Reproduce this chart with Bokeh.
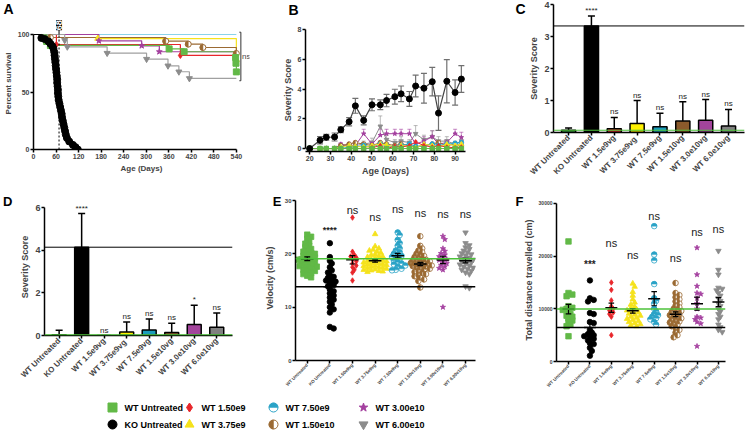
import numpy as np
from math import pi
from bokeh.plotting import figure
from bokeh.layouts import column, row
from bokeh.models import (Range1d, FixedTicker, Span, Label, Whisker, TeeHead,
                          ColumnDataSource, LinearAxis)
from bokeh.core.properties import value
from bokeh.embed import file_html
from bokeh.resources import INLINE

FONT = "Liberation Sans"

# ------------------------------------------------------------------ data
groups = ["WT Untreated", "KO Untreated", "WT 1.50e9", "WT 3.75e9",
          "WT 7.50e9", "WT 1.50e10", "WT 3.00e10", "WT 6.00e10"]
colors = ["#62b947", "#000000", "#e8262b", "#f5e21c", "#2aa3c7", "#9b6a33", "#a4409f", "#8c8c8c"]
markers = ["square", "circle", "diamond", "triangle", "half_top", "half_left", "star", "inverted_triangle"]
bar_colors = ["#3daa47", "#000000", "#e2252b", "#fff100", "#1b9cbb", "#8b5a2b", "#a3449c", "#808080"]

# Panel A : Kaplan-Meier survival
a_xticks = [0, 60, 120, 180, 240, 300, 360, 420, 480, 540]
a_yticks = [0, 50, 100]
a_ko_median = 68
a_wt_t = [0, 28, 35, 45, 361, 401, 538, 539, 540]
a_wt_s = [100, 97, 94, 90.5, 87.5, 85, 80, 75, 67.5]
a_ko_t = [0, 21, 30, 40, 45, 50, 53, 55, 56, 57, 58, 59, 60, 61, 62, 63, 63, 64, 65, 65, 66, 67,
          69, 71, 73, 75, 76, 78, 80, 82, 84, 86, 89, 95, 105, 112, 118]
a_ko_s = [100, 97, 96, 94, 92, 90, 88, 85, 82, 79, 76, 73, 70, 67, 64, 61, 58, 55, 52, 49, 46, 43,
          40, 37, 34, 31, 28, 25, 22, 19, 16, 13, 10, 7, 4, 2, 0]
a_r_t = [0, 61, 391, 540]
a_r_s = [100, 91.3, 81.8, 81.8]
a_y_t = [0, 171, 540, 540]
a_y_s = [100, 96.5, 96.5, 78]
a_c_t = [0, 540]
a_c_s = [100, 100]
a_b_t = [0, 45, 352, 412, 451, 540]
a_b_s = [100, 97.4, 94.2, 91.6, 88.7, 83.5]
a_m_t = [0, 174, 288, 335, 540]
a_m_s = [100, 94.5, 90.2, 85, 85]
a_g_t = [0, 83, 90, 196, 301, 358, 387, 415, 540]
a_g_s = [100, 95, 89.3, 83.8, 78.6, 72.8, 67.6, 61.8, 61.8]

# Panel B : severity score over age
b_xticks = [20, 30, 40, 50, 60, 70, 80, 90]
b_yticks = [0, 2, 4, 6, 8]
b_days = [20, 25, 28, 32, 35, 39, 42, 46, 50, 54, 57, 61, 64, 68, 71, 75, 79, 82, 86, 90, 93]
b_ko = [0, 0.56, 0.76, 0.78, 1.27, 1.81, 2.88, 1.9, 2.95, 2.95, 3.24, 3.5, 3.69, 3.35, 4.22,
        4.07, 4.51, 2.39, 4.54, 3.78, 4.69]
b_ko_sem = [0, 0.25, 0.2, 0.27, 0.2, 0.28, 0.5, 0.3, 0.4, 0.33, 0.42, 0.5, 0.53, 0.5, 0.74,
            1.0, 0.96, 1.17, 1.46, 0.85, 0.9]
b_wt = [0, 0, 0, 0, 0, 0, 0, 0, 0, 0, 0, 0, 0, 0, 0, 0, 0, 0, 0, 0, 0]
b_r = [0, 0, 0, 0, 0, 0, 0, 0, 0.05, 0.2, 0, 0.15, 0.1, 0.2, 0.45, 0.2, 0.1, 0.2, 0.1, 0.05, 0.1]
b_y = [0, 0, 0, 0, 0.1, 0.2, 0.15, 0.1, 0.2, 0.3, 0.25, 0.1, 0.2, 0.15, 0.05, 0.3, 0.2, 0.1, 0.3, 0.2, 0.3]
b_c = [0, 0, 0, 0, 0, 0.1, 0.1, 0.2, 0.1, 0.3, 0.2, 0.1, 0.2, 0.3, 0.15, 0.2, 0.3, 0.2, 0.3, 0.35, 0.4]
b_b = [0, 0, 0, 0, 0.2, 0.3, 0.4, 0.3, 0.2, 0.4, 0.3, 0.2, 0.3, 0.2, 0.1, 0.2, 0.3, 0.4, 0.2, 0.3, 0.2]
b_m = [0, 0, 0, 0, 0.3, 0.15, 0.2, 1.0, 0.3, 0.9, 1.0, 1.0, 1.0, 1.0, 0.3, 0.5, 0.8, 0.3, 0.4, 1.0, 0.75]
b_g = [0, 0, 0, 0, 0.2, 0.2, 0.2, 0.3, 0.4, 1.5, 0.6, 0.4, 0.5, 0.4, 1.0, 0.6, 0.8, 0.5, 0.5, 0.3, 0.5]
b_m_sem = [0, 0, 0, 0, 0.1, 0.1, 0.1, 0.3, 0.2, 0.4, 0.3, 0.3, 0.3, 0.3, 0.2, 0.3, 0.4, 0.2, 0.2, 0.3, 0.35]
b_g_sem = [0, 0, 0, 0, 0.1, 0.1, 0.1, 0.2, 0.3, 0.7, 0.3, 0.2, 0.3, 0.2, 0.55, 0.3, 0.4, 0.3, 0.3, 0.2, 0.3]

# Panel C / D : severity score bars
cd_labels = ["WT Untreated", "KO Untreated", "WT 1.5e9vg", "WT  3.75e9vg", "WT 7.5e9vg",
             "WT 1.5e10vg", "WT 3.0e10vg", "WT 6.0e10vg"]
c_yticks = [0, 1, 2, 3, 4]
c_mean = [0.07, 3.33, 0.12, 0.28, 0.18, 0.36, 0.38, 0.20]
c_err = [0.07, 0.31, 0.35, 0.72, 0.42, 0.60, 0.65, 0.52]
c_sig = ["", "****", "ns", "ns", "ns", "ns", "ns", "ns"]
d_yticks = [0, 2, 4, 6]
d_mean = [0.03, 4.15, 0.0, 0.17, 0.26, 0.14, 0.52, 0.39]
d_err = [0.22, 1.58, 0.0, 0.47, 0.51, 0.44, 0.90, 0.67]
d_sig = ["", "****", "ns", "ns", "ns", "ns", "*", "ns"]

# Panel E : velocity (cm/s)
e_labels = ["WT Untreated", "KO Untreated", "WT 1.50e9vg", "WT 3.75e9vg", "WT 7.50e9vg",
            "WT 1.50e10vg", "WT 3.00e10vg", "WT 6.00e10vg"]
e_yticks = [0, 10, 20, 30]
e_wt = [23.6, 23.2, 22.8, 22.3, 21.9, 21.5, 21.2, 20.9, 20.6, 20.4, 20.2, 20.0, 19.8, 19.6, 19.4,
        19.3, 19.1, 19.0, 18.9, 18.7, 18.6, 18.5, 18.3, 18.2, 18.0, 17.9, 17.7, 17.6, 17.4, 17.2,
        17.0, 16.8, 16.6, 16.4, 16.2, 15.9, 15.6]
e_ko = [22.0, 19.4, 18.7, 18.2, 17.5, 16.9, 16.5, 16.0, 15.7, 15.5, 15.2, 15.0, 14.8, 14.5, 14.2,
        13.9, 13.4, 13.0, 12.6, 12.2, 11.8, 11.4, 11.0, 10.5, 10.0, 9.6, 9.0, 6.3, 6.0]
e_r = [26.8, 20.4, 19.8, 19.5, 19.3, 19.0, 18.6, 18.2, 17.8, 17.5, 17.0, 16.5, 15.0]
e_y = [23.7, 21.4, 21.0, 20.8, 20.6, 20.4, 20.2, 19.9, 19.8, 19.6, 19.5, 19.4, 19.2, 19.0, 18.9,
       18.8, 18.7, 18.6, 18.5, 18.4, 18.3, 18.2, 18.1, 18.0, 17.9, 17.8, 17.7, 17.6, 17.5, 17.4,
       17.3, 17.2, 17.1, 17.0, 16.9, 16.8, 16.7, 16.6]
e_c = [24.0, 23.5, 22.6, 22.0, 21.5, 21.0, 20.6, 20.3, 20.0, 19.8, 19.6, 19.4, 19.2, 19.0, 18.7,
       18.4, 18.2, 18.0, 17.8, 17.6, 17.2, 17.0, 16.9]
e_b = [23.3, 21.5, 21.0, 20.6, 20.3, 20.0, 19.8, 19.6, 19.4, 19.2, 19.0, 18.9, 18.8, 18.7, 18.6,
       18.5, 18.4, 18.3, 18.2, 18.1, 18.0, 17.9, 17.8, 17.7, 17.6, 17.5, 17.4, 17.2, 17.0, 16.8,
       16.6, 16.4, 16.2, 16.0, 15.8, 15.5, 15.2, 14.9, 13.7]
e_m = [23.3, 22.7, 21.0, 20.5, 20.1, 19.8, 19.5, 19.2, 19.0, 18.8, 18.5, 18.2, 17.9, 17.6, 17.3,
       17.0, 10.0]
e_g = [24.0, 22.0, 21.6, 21.2, 20.9, 20.6, 20.3, 20.1, 19.9, 19.7, 19.5, 19.3, 19.1, 18.9, 18.8,
       18.6, 18.4, 18.2, 18.0, 17.8, 17.6, 17.4, 17.2, 17.0, 16.8, 16.5, 16.2, 13.9, 13.6]
e_sig = ["", "****", "ns", "ns", "ns", "ns", "ns", "ns"]
e_sig_y = [0, 24.4, 28.3, 27.0, 28.4, 27.7, 27.5, 27.4]

# Panel F : total distance travelled (cm)
f_labels = ["WT Untreated", "KO Untreated", "WT 1.5e9vg", "WT 3.75e9vg", "WT 7.5e9vg",
            "WT 1.5e10vg", "WT 3.0e10vg", "WT 6.0e10vg"]
f_yticks = [0, 10000, 20000, 30000]
f_wt = [22800, 13000, 12700, 12400, 10500, 10200, 10000, 9800, 9500, 9000, 8700, 8500, 8200,
        7800, 7500, 7000, 6700, 4800]
f_ko = [15400, 12000, 11700, 11400, 9200, 9000, 7500, 7300, 6000, 5500, 5200, 5000, 4800, 4500,
        4300, 4000, 3500, 3300, 2600, 2000, 1100]
f_r = [15000, 13600, 11600, 10500, 10000, 9700, 9300, 9000, 8500, 5000]
f_y = [14800, 14200, 13200, 12500, 11800, 11200, 10800, 10400, 10100, 9900, 9700, 9500, 9300,
       9100, 8900, 8700, 8500, 8300, 8100, 7900, 7700, 7500, 7300, 7100, 6900, 6700]
f_c = [25700, 20300, 19200, 14700, 12000, 11500, 11000, 10000, 9500, 9000, 8800, 8500, 8200,
       8000, 7500, 7000]
f_b = [14900, 13000, 12600, 12200, 11800, 11400, 11000, 10600, 10300, 10000, 9800, 9600, 9400,
       9200, 9000, 8800, 8600, 8400, 8200, 8000, 7800, 7600, 7400, 7200, 7000, 6700, 6400, 6000,
       5500, 5000, 4600]
f_m = [21600, 16500, 14300, 13000, 12800, 12000, 11000, 10000, 8500, 8300, 8000, 7500, 7200, 2900]
f_g = [21000, 17400, 16500, 14000, 13800, 13500, 13000, 12500, 12000, 11500, 11000, 10500, 10000,
       9500, 9000, 8500, 8000, 7000, 6500, 6000, 5600]
f_sig = ["", "***", "ns", "ns", "ns", "ns", "ns", "ns"]
f_sig_y = [0, 18500, 22500, 20200, 27700, 19600, 24600, 25100]

panel_letters_top = ["A", "B"]


# ------------------------------------------------------------------ helpers
def make_fig(w, h, xr, yr, l, r, t, b, axes=True):
    kw = {} if axes else dict(x_axis_type=None, y_axis_type=None)
    p = figure(width=w, height=h, x_range=Range1d(*xr), y_range=Range1d(*yr),
               min_border_left=l, min_border_right=r, min_border_top=t, min_border_bottom=b,
               output_backend="svg", toolbar_location=None, frame_align=False, **kw)
    p.outline_line_color = None
    p.xgrid.grid_line_color = None
    p.ygrid.grid_line_color = None
    p.background_fill_color = "white"
    p.border_fill_color = "white"
    return p


def style_axes(p, tick_px, lab_px, xtick_px=None):
    for ax in p.axis:
        ax.axis_line_width = 1.5
        ax.axis_line_color = "black"
        ax.major_tick_line_width = 1.5
        ax.major_tick_out = 3
        ax.major_tick_in = 0
        ax.minor_tick_out = 0
        ax.minor_tick_in = 0
        ax.major_label_text_font = FONT
        ax.major_label_text_font_style = "bold"
        ax.major_label_text_font_size = tick_px
        ax.major_label_standoff = 1
        ax.axis_label_text_font = FONT
        ax.axis_label_text_font_style = "bold"
        ax.axis_label_text_font_size = lab_px
        ax.axis_label_standoff = 2
    if xtick_px:
        p.xaxis.major_label_text_font_size = xtick_px


def letter_axis(p, y, text, standoff, label=None, label_standoff=0, size="13px"):
    ax = LinearAxis(ticker=FixedTicker(ticks=[y]), major_label_overrides={y: text},
                    axis_line_color=None, major_tick_line_color=None, minor_tick_line_color=None,
                    major_tick_out=0, major_tick_in=0, minor_tick_out=0, minor_tick_in=0,
                    major_label_standoff=standoff, major_label_text_font=FONT,
                    major_label_text_font_size=size, major_label_text_font_style="bold",
                    major_label_text_color="black")
    if label:
        ax.axis_label = label
        ax.axis_label_text_font = FONT
        ax.axis_label_text_font_style = "bold"
        ax.axis_label_text_font_size = "9px"
        ax.axis_label_standoff = label_standoff
    p.add_layout(ax, "left")


def draw_marker(p, xs, ys, k, size, lw=1):
    m, c = markers[k], colors[k]
    if m == "half_top" or m == "half_left":
        p.scatter(xs, ys, marker="circle", size=size, fill_color="white", line_color=c, line_width=lw)
        a0, a1 = (0, pi) if m == "half_top" else (pi / 2, 3 * pi / 2)
        p.wedge(xs, ys, radius=size / 2, radius_units="screen", start_angle=a0, end_angle=a1,
                fill_color=c, line_color=c, line_width=0.5)
    else:
        p.scatter(xs, ys, marker=m, size=size, fill_color=c, line_color=c, line_width=lw)


def swarm_offsets(vals, ypx, xpx, d):
    vals = np.asarray(vals, float)
    order = np.argsort(-vals, kind="stable")
    placed = []
    out = np.zeros(len(vals))
    for i in order:
        yp = vals[i] * ypx
        k = 0
        while True:
            cands = [0.0] if k == 0 else [k * d * 0.5, -k * d * 0.5]
            hit = None
            for xo in cands:
                if all((xo - px) ** 2 + (yp - py) ** 2 >= (0.85 * d) ** 2 for px, py in placed):
                    hit = xo
                    break
            if hit is not None:
                placed.append((hit, yp))
                out[i] = hit / xpx
                break
            k += 1
    return out


def letter_strip(w, h, xs, tops, letters):
    s = make_fig(w, h, (0, w), (0, h), 0, 0, 0, 0, axes=False)
    s.text(x=xs, y=[h - t for t in tops], text=letters, text_font=value(FONT),
           text_font_size="14px", text_font_style="bold", text_baseline="top",
           text_align="left", text_color="black")
    return s


# ------------------------------------------------------------------ Panel A
pa = make_fig(250, 173, (0, 575), (0, 114.8), 27, 1, 0, 41)
a_series = [(a_wt_t, a_wt_s), (a_ko_t, a_ko_s), (a_r_t, a_r_s), (a_y_t, a_y_s),
            (a_c_t, a_c_s), (a_b_t, a_b_s), (a_m_t, a_m_s), (a_g_t, a_g_s)]
line_order = [4, 3, 5, 6, 2, 0, 7, 1]
for k in line_order:
    t, s = a_series[k]
    lc = "#8ad3ea" if k == 4 else ("#a0a0a0" if k == 7 else colors[k])
    pa.step(t, s, mode="after", line_color=lc, line_width=1.2)
for k in line_order:
    t, s = a_series[k]
    mx = [t[i] for i in range(1, len(t)) if s[i] != s[i - 1]]
    my = [s[i] for i in range(1, len(t)) if s[i] != s[i - 1]]
    if mx:
        draw_marker(pa, mx, my, k, 6 if k != 1 else 7)
pa.segment(x0=[a_ko_median], y0=[0], x1=[a_ko_median], y1=[a_yticks[-1]],
           line_color="black", line_dash="2 2", line_width=1)
pa.segment(x0=[a_ko_median], y0=[a_yticks[-1]], x1=[a_ko_median], y1=[a_yticks[-1] + 4],
           line_color="black", line_width=1)
pa.add_layout(Label(x=a_ko_median, y=a_yticks[-1] + 8, text=str(a_ko_median), angle=pi / 2,
                    text_align="center", text_baseline="middle", text_color="white",
                    background_fill_color="black", text_font=FONT, text_font_size="9px",
                    text_font_style="bold"))
treated_final = [s[-1] for k, (t, s) in enumerate(a_series) if k != 1]
br_top, br_bot = max(treated_final) + 2, min(treated_final) - 2
br_x = a_xticks[-1] + 12
pa.line([br_x - 4, br_x, br_x, br_x - 4], [br_top, br_top, br_bot, br_bot], line_color="#333333", line_width=1)
pa.add_layout(Label(x=br_x + 3, y=(br_top + br_bot) / 2, text="ns", text_font=FONT,
                    text_font_size="8px", text_baseline="middle"))
pa.xaxis.ticker = FixedTicker(ticks=a_xticks)
pa.yaxis.ticker = FixedTicker(ticks=a_yticks)
pa.xaxis.bounds = (a_xticks[0], a_xticks[-1])
pa.yaxis.bounds = (a_yticks[0], a_yticks[-1])
pa.xaxis.axis_label = "Age (Days)"
pa.yaxis.axis_label = "Percent survival"
style_axes(pa, "7px", "8px")

# ------------------------------------------------------------------ Panel B
pb = make_fig(250, 173, (18, 95), (-0.2, 8.1), 55, 35, 11, 39)
b_series = [b_wt, b_ko, b_r, b_y, b_c, b_b, b_m, b_g]
for k, sem in ((6, b_m_sem), (7, b_g_sem)):
    src = ColumnDataSource(dict(x=b_days, lo=b_series[k],
                                hi=[v + e for v, e in zip(b_series[k], sem)]))
    pb.add_layout(Whisker(source=src, base="x", upper="hi", lower="lo", line_color=colors[k],
                          line_alpha=0.6, line_width=1,
                          upper_head=TeeHead(size=4, line_color=colors[k], line_alpha=0.6),
                          lower_head=None))
src_ko = ColumnDataSource(dict(x=b_days, lo=[v - e for v, e in zip(b_ko, b_ko_sem)],
                               hi=[v + e for v, e in zip(b_ko, b_ko_sem)]))
pb.add_layout(Whisker(source=src_ko, base="x", upper="hi", lower="lo", line_color="#707070",
                      line_width=1.2, upper_head=TeeHead(size=6, line_color="#707070", line_width=1.2),
                      lower_head=TeeHead(size=6, line_color="#707070", line_width=1.2)))
for k in [7, 6, 5, 4, 3, 2, 0]:
    pb.line(b_days, b_series[k], line_color=colors[k], line_width=1)
    draw_marker(pb, b_days, b_series[k], k, 4.5)
pb.line(b_days, b_ko, line_color="#444444", line_width=1.2)
draw_marker(pb, b_days, b_ko, 1, 6)
pb.xaxis.ticker = FixedTicker(ticks=b_xticks)
pb.yaxis.ticker = FixedTicker(ticks=b_yticks)
pb.yaxis.bounds = (b_yticks[0], b_yticks[-1])
pb.xaxis.axis_label = "Age (Days)"
pb.yaxis.axis_label = "Severity Score"
style_axes(pb, "7px", "9px")


# ------------------------------------------------------------------ Panels C & D (bars)
def bar_panel(p, means, errs, sig, yticks, tick_px, ns_px):
    xs = list(range(len(means)))
    p.vbar(x=xs, top=means, width=0.62, fill_color=bar_colors, line_color="black", line_width=1.5)
    src = ColumnDataSource(dict(x=xs, lo=means, hi=[m + e for m, e in zip(means, errs)]))
    p.add_layout(Whisker(source=src, base="x", upper="hi", lower="lo", line_color="black",
                         line_width=1.5, upper_head=TeeHead(size=7, line_color="black", line_width=1.5),
                         lower_head=None, level="underlay"))
    p.add_layout(Span(location=means[1], dimension="width", line_color="black", line_width=1))
    p.add_layout(Span(location=means[0], dimension="width", line_color="#4cc23a", line_width=1.2))
    tops = [m + e for m, e in zip(means, errs)]
    p.text(x=xs, y=tops, text=sig, text_font=value(FONT), text_font_size=ns_px,
           text_align="center", text_baseline="bottom", y_offset=-1, text_color="#222222")
    p.xaxis.ticker = FixedTicker(ticks=xs)
    p.xaxis.major_label_overrides = {i: lab for i, lab in enumerate(cd_labels)}
    p.xaxis.major_label_orientation = pi / 4
    p.yaxis.ticker = FixedTicker(ticks=yticks)
    p.yaxis.bounds = (yticks[0], yticks[-1])
    p.yaxis.axis_label = "Severity Score"
    style_axes(p, tick_px, "9px", xtick_px="8px")


pc = make_fig(247, 190, (-0.66, 7.7), (0, 4.0), 53, 3, 4, 58)
bar_panel(pc, c_mean, c_err, c_sig, c_yticks, "9px", "8px")
letter_axis(pc, 3.86, "C", 1, size="14px")

pd_ = make_fig(250, 205, (-0.65, 7.7), (0, 6.44), 40, 18, 8, 60)
bar_panel(pd_, d_mean, d_err, d_sig, d_yticks, "9px", "8px")
letter_axis(pd_, 6.3, "D", 5)


# ------------------------------------------------------------------ Panels E & F (dot plots)
def dot_panel(p, series, labels, yticks, ypx, xpx, sig, sig_y, ylab, tick_px, ns_px, star_px):
    for k, vals in enumerate(series):
        offs = swarm_offsets(vals, ypx, xpx, 3.8)
        draw_marker(p, [k + o for o in offs], vals, k, 5.5, lw=0.8)
    means = [float(np.mean(v)) for v in series]
    sems = [float(np.std(v, ddof=1) / np.sqrt(len(v))) for v in series]
    xs = list(range(len(series)))
    p.add_layout(Span(location=means[0], dimension="width", line_color="#4cc23a", line_width=1.5))
    p.add_layout(Span(location=means[1], dimension="width", line_color="black", line_width=1.5))
    p.segment(x0=[x - 0.28 for x in xs], y0=means, x1=[x + 0.28 for x in xs], y1=means,
              line_color="black", line_width=1.5)
    p.segment(x0=xs, y0=[m - s for m, s in zip(means, sems)], x1=xs,
              y1=[m + s for m, s in zip(means, sems)], line_color="black", line_width=1.2)
    for sgn in (-1, 1):
        p.segment(x0=[x - 0.13 for x in xs], y0=[m + sgn * s for m, s in zip(means, sems)],
                  x1=[x + 0.13 for x in xs], y1=[m + sgn * s for m, s in zip(means, sems)],
                  line_color="black", line_width=1.2)
    ns_i = [i for i, s in enumerate(sig) if s == "ns"]
    st_i = [i for i, s in enumerate(sig) if s.startswith("*")]
    p.text(x=ns_i, y=[sig_y[i] for i in ns_i], text=[sig[i] for i in ns_i], text_font=value(FONT),
           text_font_size=ns_px, text_align="center", text_baseline="middle", text_color="#222222")
    p.text(x=st_i, y=[sig_y[i] for i in st_i], text=[sig[i] for i in st_i], text_font=value(FONT),
           text_font_size=star_px, text_font_style="bold", text_align="center",
           text_baseline="middle", text_color="#222222")
    p.xaxis.ticker = FixedTicker(ticks=xs)
    p.xaxis.major_label_overrides = {i: lab for i, lab in enumerate(labels)}
    p.xaxis.major_label_orientation = pi / 4
    p.yaxis.ticker = FixedTicker(ticks=yticks)
    p.yaxis.bounds = (yticks[0], yticks[-1])
    if ylab:
        p.yaxis.axis_label = ylab
    style_axes(p, tick_px, "9px", xtick_px="4.5px")


pe = make_fig(250, 205, (-0.52, 7.44), (0, 30.94), 45, 25, 5, 35)
dot_panel(pe, [e_wt, e_ko, e_r, e_y, e_c, e_b, e_m, e_g], e_labels, e_yticks, 160 / 30, 22.6,
          e_sig, e_sig_y, None, "6px", "11px", "9px")
letter_axis(pe, 29.8, "E", 0, label="Velocity (cm/s)", label_standoff=-5)

pf = make_fig(247, 205, (-0.56, 7.33), (0, 30949), 56, 22, 8, 34)
dot_panel(pf, [f_wt, f_ko, f_r, f_y, f_c, f_b, f_m, f_g], f_labels, f_yticks, 158 / 30000, 21.4,
          f_sig, f_sig_y, "Total distance travelled (cm)", "5px", "11px", "10px")
letter_axis(pf, 30380, "F", -3)

# ------------------------------------------------------------------ panel letter strip (A, B)
strip_ab = letter_strip(500, 17, [3, 288], [0.5, 1.0], panel_letters_top)

# ------------------------------------------------------------------ legend strip
lg = make_fig(747, 37, (0, 747), (0, 37), 0, 0, 0, 0, axes=False)
leg_col_x = [112, 189, 273, 363]
leg_row_y = [25, 8]
for k, g in enumerate(groups):
    cx, cy = leg_col_x[k // 2], leg_row_y[k % 2]
    draw_marker(lg, [cx], [cy], k, 9)
    lg.text(x=[cx + 12], y=[cy], text=[g], text_font=value(FONT), text_font_size="9px",
            text_font_style="bold", text_baseline="middle", text_align="left", text_color="black")

top_row = row(column(strip_ab, row(pa, pb)), pc)
mid_row = row(pd_, pe, pf)
root = column(top_row, mid_row, lg,
              styles={"position": "absolute", "left": "0px", "top": "0px"})

open("out.html", "w").write(file_html(root, INLINE))
